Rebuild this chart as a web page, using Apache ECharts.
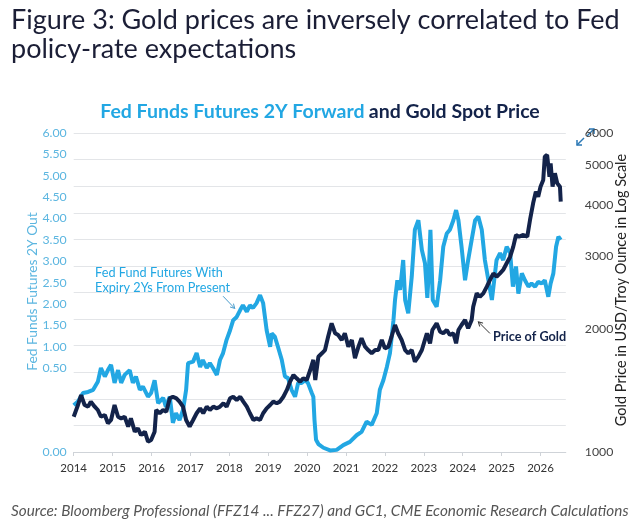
<!DOCTYPE html>
<html><head><meta charset="utf-8">
<script src="https://cdn.jsdelivr.net/npm/echarts@6/dist/echarts.min.js"></script>
<style>html,body{margin:0;padding:0;background:#fff}#c{width:640px;height:523px}</style>
</head><body><div id="c"></div>
<script>
// ---- Data (decimal years) ----
const ffYears = [2014.00,2014.11,2014.24,2014.37,2014.50,2014.62,2014.70,2014.80,2014.88,2014.96,
2015.05,2015.14,2015.22,2015.31,2015.44,2015.52,2015.60,2015.70,2015.78,2015.91,2015.99,
2016.08,2016.17,2016.30,2016.37,2016.47,2016.55,2016.63,2016.72,2016.81,2016.89,2016.94,
2017.07,2017.16,2017.25,2017.32,2017.42,2017.50,2017.58,2017.68,2017.76,2017.84,2017.93,
2018.02,2018.10,2018.19,2018.28,2018.35,2018.45,2018.53,2018.61,2018.70,2018.79,2018.87,2018.96,
2019.05,2019.09,2019.17,2019.25,2019.35,2019.43,2019.51,2019.60,2019.69,2019.77,2019.86,2019.95,
2020.02,2020.12,2020.16,2020.19,2020.21,2020.23,2020.29,2020.42,2020.59,2020.76,2020.93,
2021.10,2021.28,2021.40,2021.53,2021.66,2021.79,2021.87,2021.96,
2022.05,2022.13,2022.22,2022.26,2022.32,2022.39,2022.47,2022.52,2022.60,2022.69,2022.77,2022.86,2022.95,
2023.03,2023.09,2023.13,2023.17,2023.23,2023.33,2023.42,2023.50,2023.59,2023.67,2023.76,2023.83,2023.89,2023.97,
2024.06,2024.14,2024.23,2024.32,2024.40,2024.49,2024.57,2024.66,2024.75,2024.79,2024.87,2024.96,
2025.04,2025.13,2025.22,2025.29,2025.37,2025.43,2025.52,2025.60,2025.69,2025.77,2025.86,2025.94,
2026.03,2026.11,2026.20,2026.26,2026.33,2026.40,2026.46,2026.52];
const ffValues = [0.88,0.95,1.11,1.13,1.17,1.32,1.58,1.42,1.54,1.64,
1.30,1.54,1.30,1.45,1.54,1.30,1.42,1.17,1.23,1.04,1.11,
1.35,0.92,1.02,0.85,1.04,0.55,0.73,0.60,0.79,1.17,1.67,
1.70,1.86,1.60,1.73,1.58,1.67,1.58,1.45,1.73,1.86,2.11,
2.29,2.48,2.54,2.67,2.76,2.64,2.76,2.71,2.80,2.95,2.80,2.29,
1.98,2.23,2.17,1.98,1.73,1.42,1.39,1.17,1.04,1.30,1.30,1.35,
1.30,1.11,1.04,0.60,0.41,0.23,0.15,0.08,0.03,0.04,0.13,
0.19,0.32,0.38,0.57,0.51,0.73,1.17,1.35,
1.60,1.86,2.48,2.86,3.23,3.05,3.61,2.86,2.61,3.30,4.18,4.36,3.80,
3.55,2.90,3.40,4.18,2.86,2.73,3.23,3.86,4.11,4.18,4.36,4.55,4.36,3.86,
3.23,3.61,3.99,4.36,4.43,4.18,3.61,3.23,2.86,3.11,3.61,3.74,
3.61,3.86,3.74,3.11,3.49,2.98,3.36,3.23,3.11,3.17,3.11,3.20,
3.17,3.23,2.92,3.17,3.36,3.86,4.05,3.99];

const goldYears = [2014.00,2014.11,2014.19,2014.28,2014.37,2014.44,2014.54,2014.62,2014.70,2014.80,2014.88,2014.96,
2015.05,2015.14,2015.22,2015.31,2015.40,2015.47,2015.57,2015.65,2015.73,2015.83,2015.91,2015.99,
2016.08,2016.12,2016.21,2016.30,2016.38,2016.47,2016.55,2016.64,2016.72,2016.81,2016.89,2016.98,
2017.07,2017.16,2017.25,2017.33,2017.42,2017.50,2017.59,2017.68,2017.76,2017.85,2017.93,
2018.02,2018.10,2018.19,2018.28,2018.36,2018.45,2018.53,2018.62,2018.70,2018.79,2018.87,2018.96,
2019.05,2019.13,2019.22,2019.30,2019.39,2019.48,2019.56,2019.65,2019.73,2019.82,2019.90,2019.99,
2020.08,2020.16,2020.21,2020.29,2020.38,2020.46,2020.54,2020.63,2020.72,2020.80,2020.89,2020.97,
2021.06,2021.15,2021.23,2021.32,2021.40,2021.49,2021.57,2021.66,2021.75,2021.83,2021.92,2022.00,
2022.09,2022.17,2022.26,2022.34,2022.43,2022.52,2022.60,2022.69,2022.77,2022.86,2022.95,
2023.03,2023.08,2023.16,2023.22,2023.33,2023.42,2023.50,2023.59,2023.67,2023.76,2023.83,2023.89,2023.97,
2024.06,2024.14,2024.23,2024.27,2024.36,2024.44,2024.53,2024.62,2024.70,2024.79,2024.87,2024.96,
2025.04,2025.13,2025.22,2025.30,2025.37,2025.45,2025.56,2025.66,2025.73,2025.81,2025.88,2025.94,
2026.00,2026.07,2026.11,2026.17,2026.23,2026.26,2026.31,2026.37,2026.43,2026.50,2026.52];
const goldValues = [1219,1302,1377,1302,1290,1327,1290,1266,1219,1231,1175,1197,
1302,1219,1208,1219,1153,1208,1121,1142,1100,1121,1060,1070,
1121,1266,1243,1266,1254,1352,1364,1352,1327,1290,1197,1153,
1197,1243,1278,1243,1290,1266,1290,1278,1290,1315,1290,
1352,1364,1339,1364,1327,1290,1243,1197,1208,1197,1243,1278,
1302,1327,1315,1327,1364,1417,1484,1541,1513,1484,1513,1498,
1585,1677,1498,1708,1741,1773,1911,2060,1948,1929,1876,1948,
1807,1876,1693,1807,1894,1807,1773,1741,1773,1773,1876,1790,
1807,1911,2041,1948,1876,1773,1741,1773,1661,1708,1773,
1880,1948,1841,1984,2060,1965,1948,1984,1929,1948,1841,1984,2041,
2099,2003,2099,2262,2438,2392,2438,2531,2628,2728,2677,2728,
2780,2886,2995,3169,3384,3352,3384,3352,3681,4043,4316,4195,
4438,4609,5253,5303,4694,5061,4438,4784,4523,4438,4079];

const xTickYears = [2014,2015,2016,2017,2018,2019,2020,2021,2022,2023,2024,2025,2026];
const leftTickValues = [0,0.5,1,1.5,2,2.5,3,3.5,4,4.5,5,5.5,6];
const rightTickValues = [1000,2000,3000,4000,5000,6000];

const BLUE = '#22a7e3', NAVY = '#13234a', LBLUE = '#5cb6e0';
const FONT = 'Lato';
// the left tick labels in the source are drawn compressed above 0.50 with 0.00 at the bottom
const LABEL_AXIS_MIN = -1.466;

const chart = echarts.init(document.getElementById('c'));
const option = {
  animation: false,
  textStyle: { fontFamily: FONT },
  title: [
    { text: 'Figure 3: Gold prices are inversely correlated to Fed\npolicy-rate expectations',
      left: 6, top: 1,
      textStyle: { fontFamily: FONT, fontSize: 27, fontWeight: 'normal', color: '#1b1e36', lineHeight: 29 } },
    { text: '{a|Fed Funds Futures 2Y Forward} {b|and Gold Spot Price}',
      left: 'center', top: 97,
      textStyle: { rich: {
        a: { fontFamily: FONT, fontSize: 19.5, fontWeight: 'bold', color: BLUE },
        b: { fontFamily: FONT, fontSize: 19.5, fontWeight: 'bold', color: NAVY } } } },
    { text: 'Source: Bloomberg Professional (FFZ14 ... FFZ27) and GC1, CME Economic Research Calculations',
      left: 6, top: 499,
      textStyle: { fontFamily: FONT, fontSize: 15.3, fontStyle: 'italic', fontWeight: 'normal', color: '#555' } }
  ],
  grid: { left: 73.7, right: 74.2, top: 133, bottom: 71, containLabel: false, outerBoundsMode: 'none' },
  xAxis: {
    type: 'value', min: 2014, max: 2026.65,
    axisLine: { show: true, lineStyle: { color: '#cfd3d8' } },
    axisTick: { show: true, length: 4, lineStyle: { color: '#cfd3d8' }, customValues: xTickYears },
    axisLabel: { customValues: xTickYears, color: '#333', fontSize: 11.5, margin: 10, fontFamily: FONT,
      formatter: v => String(Math.round(v)) },
    splitLine: { show: false }
  },
  yAxis: [
    { type: 'value', min: 0, max: 6, interval: 0.5, position: 'left',
      axisLine: { show: false }, axisTick: { show: false }, axisLabel: { show: false },
      splitLine: { show: true, lineStyle: { color: '#e3e5e8', width: 1 } } },
    { type: 'value', min: LABEL_AXIS_MIN, max: 6, position: 'left',
      name: 'Fed Funds Futures 2Y Out', nameLocation: 'middle', nameGap: 34, nameRotate: 90,
      nameMoveOverlap: false,
      nameTextStyle: { color: LBLUE, fontSize: 13.8, fontFamily: FONT, padding: [0, 0, 0, 2] },
      axisLine: { show: false }, axisTick: { show: false }, splitLine: { show: false },
      axisLabel: { customValues: leftTickValues.map(v => v === 0 ? LABEL_AXIS_MIN : v),
        color: LBLUE, fontSize: 12.3, margin: 7, fontFamily: FONT,
        formatter: v => (v < 0 ? 0 : v).toFixed(2) } },
    { type: 'log', logBase: 10, min: 1000, max: 6000, position: 'right',
      name: 'Gold Price in USD/Troy Ounce in Log Scale', nameLocation: 'middle', nameGap: 48, nameRotate: 90,
      nameMoveOverlap: false,
      nameTextStyle: { color: '#222', fontSize: 14.5, fontFamily: FONT, padding: [0, 0, 0, 5] },
      axisLine: { show: false }, axisTick: { show: false }, splitLine: { show: false },
      axisLabel: { customValues: rightTickValues, color: '#444', fontSize: 12.3, margin: 19, fontFamily: FONT,
        formatter: v => String(Math.round(v)) } }
  ],
  series: [
    { name: 'Fed Funds Futures 2Y Forward', type: 'line', xAxisIndex: 0, yAxisIndex: 0,
      data: ffYears.map((y, i) => [y, ffValues[i]]),
      showSymbol: false, lineStyle: { color: BLUE, width: 4 }, itemStyle: { color: BLUE }, z: 2 },
    { name: 'Gold Spot Price', type: 'line', xAxisIndex: 0, yAxisIndex: 2,
      data: goldYears.map((y, i) => [y, goldValues[i]]),
      showSymbol: false, lineStyle: { color: NAVY, width: 4 }, itemStyle: { color: NAVY }, z: 3 }
  ]
};
chart.setOption(option);

// annotations anchored in data coordinates (x: year, y: left-axis units)
function px(year, v) { return chart.convertToPixel({ xAxisIndex: 0, yAxisIndex: 0 }, [year, v]); }
function arrow(from, to, color) {
  const a = px(from[0], from[1]), b = px(to[0], to[1]);
  const ang = Math.atan2(b[1] - a[1], b[0] - a[0]);
  const L = 5, w = 0.5;
  const h1 = [b[0] - L * Math.cos(ang - w), b[1] - L * Math.sin(ang - w)];
  const h2 = [b[0] - L * Math.cos(ang + w), b[1] - L * Math.sin(ang + w)];
  return [
    { type: 'line', shape: { x1: a[0], y1: a[1], x2: b[0], y2: b[1] }, style: { stroke: color, lineWidth: 1 } },
    { type: 'polyline', shape: { points: [h1, b, h2] }, style: { stroke: color, lineWidth: 1, fill: null } }
  ];
}
const t1 = px(2014.55, 3.37), t2 = px(2014.55, 3.08), t3 = px(2024.78, 2.16);
const graphics = [
  { type: 'text', style: { text: 'Fed Fund Futures With', x: t1[0], y: t1[1], fill: BLUE,
      font: '12.7px ' + FONT, textVerticalAlign: 'middle' } },
  { type: 'text', style: { text: 'Expiry 2Ys From Present', x: t2[0], y: t2[1], fill: BLUE,
      font: '12.7px ' + FONT, textVerticalAlign: 'middle' } },
  { type: 'text', style: { text: 'Price of Gold', x: t3[0], y: t3[1], fill: NAVY,
      font: 'bold 12.7px ' + FONT, textVerticalAlign: 'middle' } },
  ...arrow([2017.84, 2.93], [2018.14, 2.70], '#4a9ccc'),
  ...arrow([2024.70, 2.23], [2024.40, 2.45], '#333'),
  // expand icon
  { type: 'polyline', shape: { points: [[587, 136], [594, 129]] }, style: { stroke: '#2b78b5', lineWidth: 1.5, fill: null } },
  { type: 'polyline', shape: { points: [[589, 129], [594, 129], [594, 134]] }, style: { stroke: '#2b78b5', lineWidth: 1.5, fill: null } },
  { type: 'polyline', shape: { points: [[584, 138], [577, 145]] }, style: { stroke: '#2b78b5', lineWidth: 1.5, fill: null } },
  { type: 'polyline', shape: { points: [[577, 140], [577, 145], [582, 145]] }, style: { stroke: '#2b78b5', lineWidth: 1.5, fill: null } }
];
chart.setOption({ graphic: graphics });
</script>
</body></html>
